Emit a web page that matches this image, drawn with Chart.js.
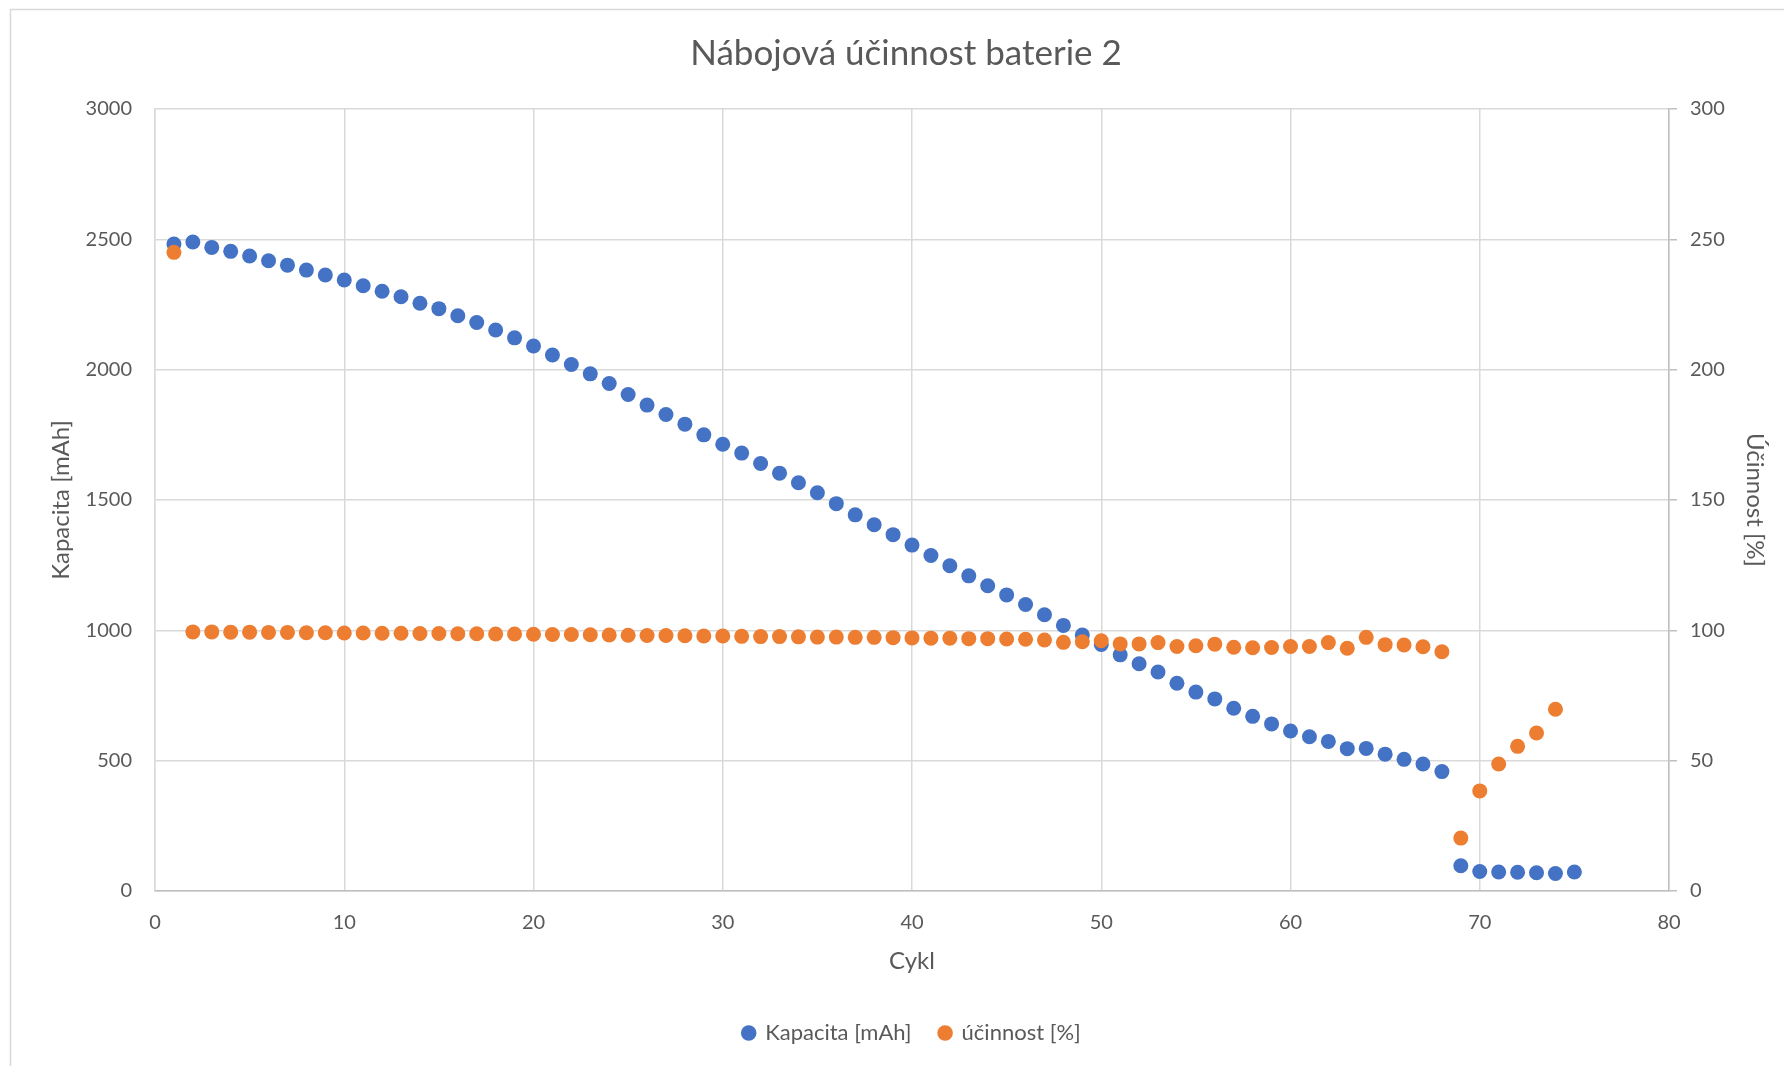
<!DOCTYPE html>
<html>
<head>
<meta charset="utf-8">
<script src="https://cdn.jsdelivr.net/npm/chart.js@4.4.1/dist/chart.umd.min.js"></script>
<style>
html,body{margin:0;padding:0;background:#fff;}
#wrap{position:relative;width:1784px;height:1066px;}
</style>
</head>
<body>
<div id="wrap"><canvas id="c" width="1784" height="1066"></canvas></div>
<script>
const chartTitle = 'Nábojová účinnost baterie 2';
const xTitle = 'Cykl';
const yTitle = 'Kapacita [mAh]';
const y2Title = 'Účinnost [%]';
const seriesNames = ['Kapacita [mAh]', 'účinnost [%]'];

const capacityCycles = [1,2,3,4,5,6,7,8,9,10,11,12,13,14,15,16,17,18,19,20,21,22,23,24,25,26,27,28,29,30,31,32,33,34,35,36,37,38,39,40,41,42,43,44,45,46,47,48,49,50,51,52,53,54,55,56,57,58,59,60,61,62,63,64,65,66,67,68,69,70,71,72,73,74,75];
const capacity = [2482,2490,2469,2454,2436,2418,2401,2382,2363,2344,2322,2301,2280,2255,2234,2207,2181,2152,2122,2091,2056,2020,1984,1947,1905,1864,1828,1791,1750,1714,1680,1640,1603,1566,1528,1486,1443,1405,1367,1327,1287,1248,1209,1171,1136,1099,1060,1019,982,946,906,872,840,797,763,737,701,670,641,614,592,574,546,547,525,505,487,458,97,75,73,72,70,67,73];

const efficiencyCycles = [1,2,3,4,5,6,7,8,9,10,11,12,13,14,15,16,17,18,19,20,21,22,23,24,25,26,27,28,29,30,31,32,33,34,35,36,37,38,39,40,41,42,43,44,45,46,47,48,49,50,51,52,53,54,55,56,57,58,59,60,61,62,63,64,65,66,67,68,69,70,71,72,73,74];
const efficiency = [245,99.4,99.4,99.3,99.3,99.2,99.2,99.1,99.1,99.0,99.0,98.9,98.9,98.8,98.8,98.7,98.7,98.6,98.6,98.5,98.4,98.4,98.3,98.2,98.1,98.0,98.0,97.9,97.8,97.8,97.7,97.6,97.6,97.5,97.4,97.4,97.3,97.3,97.2,97.1,97.0,97.0,96.8,96.8,96.7,96.6,96.3,95.4,95.6,96.0,94.8,94.8,95.3,93.8,94.1,94.7,93.5,93.3,93.4,93.8,93.8,95.3,93.1,97.3,94.5,94.4,93.7,91.8,20.3,38.4,48.7,55.5,60.6,69.7];

const xTicks = [0,10,20,30,40,50,60,70,80];
const yTicks = [0,500,1000,1500,2000,2500,3000];
const y2Ticks = [0,50,100,150,200,250,300];

const FONT = 'Lato';
const TXT = '#595959';
const PAD_BOTTOM = 12;

const toPoints = (xs, ys) => xs.map((x, i) => ({x: x, y: ys[i]}));
const plain = (v) => String(v);

const framePlugin = {
  id: 'frame',
  beforeDraw(chart) {
    const ctx = chart.ctx;
    ctx.save();
    ctx.fillStyle = '#ffffff';
    ctx.fillRect(0, 0, chart.width, chart.height);
    ctx.strokeStyle = '#d9d9d9';
    ctx.lineWidth = 1.5;
    ctx.beginPath();
    ctx.moveTo(10.5, chart.height + 2);
    ctx.lineTo(10.5, 9.5);
    ctx.lineTo(chart.width + 2, 9.5);
    ctx.stroke();
    ctx.restore();
  }
};

const shiftPlugin = {
  id: 'shift',
  afterLayout(chart) {
    if (chart.legend) { chart.legend.left += 20; chart.legend.right += 20; }
    if (chart.titleBlock) { chart.titleBlock.left += 14; chart.titleBlock.right += 14; }
  }
};

new Chart(document.getElementById('c'), {
  type: 'scatter',
  data: {
    datasets: [
      {
        label: seriesNames[0],
        data: toPoints(capacityCycles, capacity),
        yAxisID: 'y',
        backgroundColor: '#4472C4',
        borderColor: '#4472C4',
        pointRadius: 7.5,
        pointBorderWidth: 0,
        order: 1
      },
      {
        label: seriesNames[1],
        data: toPoints(efficiencyCycles, efficiency),
        yAxisID: 'y2',
        backgroundColor: '#ED7D31',
        borderColor: '#ED7D31',
        pointRadius: 7.5,
        pointBorderWidth: 0,
        order: 0
      }
    ]
  },
  options: {
    responsive: false,
    animation: false,
    events: [],
    layout: { padding: { left: 0, right: 0, top: 0, bottom: PAD_BOTTOM } },
    plugins: {
      tooltip: { enabled: false },
      title: {
        display: true,
        text: chartTitle,
        color: TXT,
        font: { family: FONT, size: 35, weight: 'normal' },
        padding: { top: 33, bottom: 34 }
      },
      legend: {
        position: 'bottom',
        labels: {
          usePointStyle: true,
          pointStyle: 'circle',
          boxWidth: 11,
          boxHeight: 11,
          padding: 28,
          color: TXT,
          font: { family: FONT, size: 22 },
          sort: (a, b) => a.datasetIndex - b.datasetIndex
        }
      }
    },
    scales: {
      x: {
        type: 'linear',
        min: 0, max: 80,
        afterBuildTicks(s) { s.ticks = xTicks.map(v => ({value: v})); },
        ticks: { color: TXT, font: { family: FONT, size: 20 }, padding: 20, callback: plain },
        grid: { color: '#d9d9d9', lineWidth: 1.5, drawTicks: false },
        border: { color: '#bfbfbf', width: 1.5 },
        title: { display: true, text: xTitle, color: TXT, font: { family: FONT, size: 24 }, padding: { top: 0, bottom: 18 } },
        afterFit(s) { s.height = (1066 - PAD_BOTTOM - s.chart.legend.height) - 891; }
      },
      y: {
        position: 'left',
        min: 0, max: 3000,
        afterBuildTicks(s) { s.ticks = yTicks.map(v => ({value: v})); },
        ticks: { color: TXT, font: { family: FONT, size: 20 }, padding: 23, callback: plain },
        grid: { color: '#d9d9d9', lineWidth: 1.5, drawTicks: false },
        border: { color: '#d9d9d9', width: 1.5 },
        title: { display: true, text: yTitle, color: TXT, font: { family: FONT, size: 24 }, padding: { top: 47, bottom: 0 } },
        afterFit(s) { s.width = 155; }
      },
      y2: {
        position: 'right',
        min: 0, max: 300,
        afterBuildTicks(s) { s.ticks = y2Ticks.map(v => ({value: v})); },
        ticks: { color: TXT, font: { family: FONT, size: 20 }, padding: 13, callback: plain },
        grid: { drawOnChartArea: false, drawTicks: true, tickLength: 8, color: '#bfbfbf', lineWidth: 1.5 },
        border: { color: '#bfbfbf', width: 1.5 },
        title: { display: true, text: y2Title, color: TXT, font: { family: FONT, size: 24 }, padding: { top: 15, bottom: 0 } },
        afterFit(s) { s.width = 115; }
      }
    }
  },
  plugins: [framePlugin, shiftPlugin]
});
</script>
</body>
</html>
